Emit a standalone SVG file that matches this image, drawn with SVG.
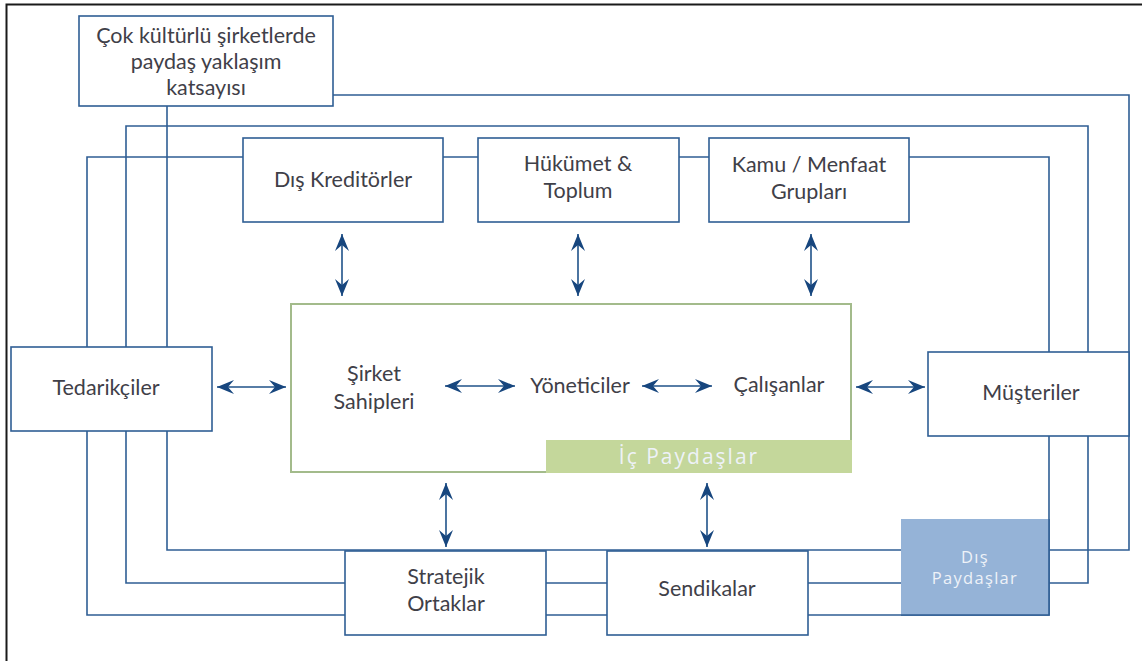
<svg xmlns="http://www.w3.org/2000/svg" width="1142" height="661" viewBox="0 0 1142 661">
  <defs>
    <marker id="head" markerUnits="userSpaceOnUse" markerWidth="20" markerHeight="16" viewBox="-18 -8 20 16" refX="0" refY="0" orient="auto-start-reverse">
      <path d="M0,0 L-17,-7 L-11,0 L-17,7 Z" fill="#17467e"/>
    </marker>
  </defs>
  <style>
    .box { fill: #ffffff; stroke: #2f5e94; stroke-width: 1.6; }
    .loop { fill: none; stroke: #2f5e94; stroke-width: 1.6; }
    .arrow { fill: none; stroke: #1f5289; stroke-width: 1.6; marker-start: url(#head); marker-end: url(#head); }
    .lbl { font-family: Lato, "Open Sans", "Liberation Sans", sans-serif; font-size: 21.5px; fill: #3f4048; text-anchor: middle; }
    .light { font-family: "Open Sans", Lato, "Liberation Sans", sans-serif; fill: #eef2f8; text-anchor: middle; }
  </style>
  <rect width="1142" height="661" fill="#ffffff"/>

  <!-- page frame -->
  <path d="M6.5,661 V4.5 H1142" fill="none" stroke="#1a1a1a" stroke-width="2"/>

  <g id="katsayi">
    <rect class="box" x="79" y="16" width="254" height="90"/>
    <text class="lbl"><tspan x="206" y="43">Çok kültürlü şirketlerde</tspan><tspan x="206" y="69">paydaş yaklaşım</tspan><tspan x="206" y="95">katsayısı</tspan></text>
  </g>

  <!-- connectors: outer feedback loops and two-way links -->
  <g id="connectors">
    <path class="loop" d="M333,95 H1129 V550 H167 V106"/>
    <path class="loop" d="M126,126 H1088 V583 H126 Z"/>
    <path class="loop" d="M87,157 H1049 V615 H87 Z"/>
    <line class="arrow" x1="342" y1="234" x2="342" y2="296"/>
    <line class="arrow" x1="578" y1="234" x2="578" y2="296"/>
    <line class="arrow" x1="811" y1="234" x2="811" y2="296"/>
    <line class="arrow" x1="217" y1="387" x2="286" y2="387"/>
    <line class="arrow" x1="445" y1="386" x2="515" y2="386"/>
    <line class="arrow" x1="642" y1="386" x2="712" y2="386"/>
    <line class="arrow" x1="856" y1="387" x2="925" y2="387"/>
    <line class="arrow" x1="446" y1="483" x2="446" y2="547"/>
    <line class="arrow" x1="707" y1="483" x2="707" y2="547"/>
  </g>

  <g id="dis-kreditorler">
    <rect class="box" x="243" y="138" width="200" height="84"/>
    <text class="lbl" x="343" y="187">Dış Kreditörler</text>
  </g>

  <g id="hukumet">
    <rect class="box" x="478" y="138" width="201" height="84"/>
    <text class="lbl"><tspan x="578" y="171">Hükümet &amp;</tspan><tspan x="578" y="198">Toplum</tspan></text>
  </g>

  <g id="kamu">
    <rect class="box" x="709" y="138" width="200" height="84"/>
    <text class="lbl"><tspan x="809" y="172">Kamu / Menfaat</tspan><tspan x="809" y="199">Grupları</tspan></text>
  </g>

  <g id="tedarikciler">
    <rect class="box" x="11" y="347" width="201" height="84"/>
    <text class="lbl" x="106" y="395">Tedarikçiler</text>
  </g>

  <g id="musteriler">
    <rect class="box" x="928" y="352" width="201" height="84"/>
    <text class="lbl" x="1031" y="400">Müşteriler</text>
  </g>

  <g id="ic-paydaslar">
    <rect x="291" y="304" width="560" height="168" fill="none" stroke="#a3bb8b" stroke-width="2"/>
    <rect x="546" y="440" width="306" height="33" fill="#c4d79b"/>
    <text class="light" x="689" y="464" font-size="21" letter-spacing="2">İç Paydaşlar</text>
    <text class="lbl"><tspan x="374" y="381">Şirket</tspan><tspan x="374" y="409">Sahipleri</tspan></text>
    <text class="lbl" x="580" y="393">Yöneticiler</text>
    <text class="lbl" x="779" y="392">Çalışanlar</text>
  </g>

  <g id="stratejik">
    <rect class="box" x="345" y="551" width="201" height="84"/>
    <text class="lbl"><tspan x="446" y="584">Stratejik</tspan><tspan x="446" y="611">Ortaklar</tspan></text>
  </g>

  <g id="sendikalar">
    <rect class="box" x="607" y="551" width="201" height="84"/>
    <text class="lbl" x="707" y="596">Sendikalar</text>
  </g>

  <g id="dis-paydaslar">
    <rect x="901" y="519" width="148" height="96" fill="#95b3d7"/>
    <path d="M1049,519 V615 H901" fill="none" stroke="#2f5e94" stroke-width="1.6"/>
    <text class="light" font-size="16.5" letter-spacing="1.3"><tspan x="975" y="563">Dış</tspan><tspan x="975" y="584">Paydaşlar</tspan></text>
  </g>
</svg>
